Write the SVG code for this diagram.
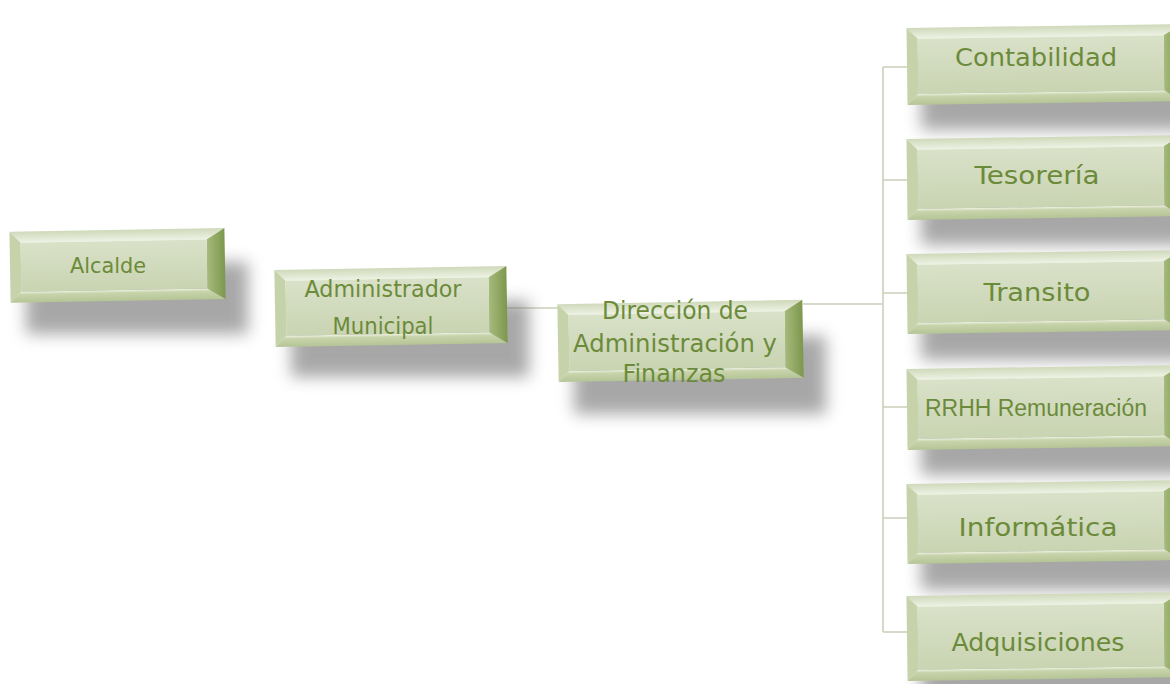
<svg xmlns="http://www.w3.org/2000/svg" width="1170" height="684" viewBox="0 0 1170 684">
<defs>
<linearGradient id="face" x1="0" y1="0" x2="0" y2="1"><stop offset="0" stop-color="#d9e1c8"/><stop offset="1" stop-color="#c9d4b2"/></linearGradient>
<linearGradient id="rb" x1="0" y1="0" x2="1" y2="0"><stop offset="0" stop-color="#a6ba7c"/><stop offset="1" stop-color="#7d974d"/></linearGradient>
<linearGradient id="tb" x1="0" y1="0" x2="0" y2="1"><stop offset="0" stop-color="#cfd9ba"/><stop offset="1" stop-color="#eef2e4"/></linearGradient>
<linearGradient id="bb" x1="0" y1="0" x2="0" y2="1"><stop offset="0" stop-color="#eef2e2"/><stop offset="0.25" stop-color="#c8d4ac"/><stop offset="1" stop-color="#b5c595"/></linearGradient>
<filter id="sh" x="-20%" y="-50%" width="140%" height="200%"><feGaussianBlur stdDeviation="8"/></filter>
</defs>
<style>
.tb{fill:url(#tb)}
.lb{fill:#c6d3aa}
.bb{fill:url(#bb)}
.rb{fill:url(#rb)}
.fc{fill:url(#face)}
.shadow{fill:#6e6e6e;opacity:0.6;filter:url(#sh)}
.t{font-family:"DejaVu Sans","Liberation Sans",sans-serif;fill:#6c8b3a;text-anchor:middle}
.t2{font-family:"Liberation Sans","DejaVu Sans",sans-serif;fill:#6c8b3a;text-anchor:middle}
.c{fill:none;stroke:#c9d0bb;stroke-width:1.6}
</style>
<rect width="1170" height="684" fill="#ffffff"/>

<g id="connectors">
<path class="c" d="M507 308 H558"/>
<path class="c" d="M803 304 H883"/>
<path class="c" d="M883 67 V632"/>
<path class="c" d="M883 67 H907 M883 180 H907 M883 293 H907 M883 407 H907 M883 518 H907 M883 632 H907"/>
</g>

<g id="alcalde">
<rect class="shadow" x="26" y="262" width="222" height="72"/>
<g transform="translate(10,230) rotate(-1 107 35)">
<polygon class="tb" points="0,0 215,0 197,11 11,11"/>
<polygon class="lb" points="0,0 11,11 11,60 0,71"/>
<polygon class="bb" points="0,71 11,60 197,60 215,71"/>
<polygon class="rb" points="215,0 215,71 197,60 197,11"/>
<rect class="fc" x="11" y="11" width="186" height="49"/>
</g>
<text class="t" x="108" y="273" font-size="21" textLength="76" lengthAdjust="spacingAndGlyphs">Alcalde</text>
</g>

<g id="administrador">
<rect class="shadow" x="291" y="301" width="238" height="76"/>
<g transform="translate(275,268) rotate(-1 116 38)">
<polygon class="tb" points="0,0 232,0 214,11 11,11"/>
<polygon class="lb" points="0,0 11,11 11,66 0,77"/>
<polygon class="bb" points="0,77 11,66 214,66 232,77"/>
<polygon class="rb" points="232,0 232,77 214,66 214,11"/>
<rect class="fc" x="11" y="11" width="203" height="55"/>
</g>
<text class="t" x="383" y="297" font-size="23" textLength="157" lengthAdjust="spacingAndGlyphs">Administrador</text>
<text class="t" x="383" y="334" font-size="23" textLength="101" lengthAdjust="spacingAndGlyphs">Municipal</text>
</g>

<g id="direccion">
<rect class="shadow" x="574" y="336" width="252" height="78"/>
<g transform="translate(558,302) rotate(-1 122 39)">
<polygon class="tb" points="0,0 245,0 227,11 11,11"/>
<polygon class="lb" points="0,0 11,11 11,67 0,78"/>
<polygon class="bb" points="0,78 11,67 227,67 245,78"/>
<polygon class="rb" points="245,0 245,78 227,67 227,11"/>
<rect class="fc" x="11" y="11" width="216" height="56"/>
</g>
<text class="t" x="675" y="319" font-size="24" textLength="146" lengthAdjust="spacingAndGlyphs">Dirección de</text>
<text class="t" x="675" y="352" font-size="24" textLength="204" lengthAdjust="spacingAndGlyphs">Administración y</text>
<text class="t" x="674" y="382" font-size="24" textLength="103" lengthAdjust="spacingAndGlyphs">Finanzas</text>
</g>

<g id="contabilidad">
<rect class="shadow" x="921" y="54" width="270" height="76"/>
<g transform="translate(907,26) rotate(-0.8 137 38)">
<polygon class="tb" points="0,0 275,0 257,11 11,11"/>
<polygon class="lb" points="0,0 11,11 11,66 0,77"/>
<polygon class="bb" points="0,77 11,66 257,66 275,77"/>
<polygon class="rb" points="275,0 275,77 257,66 257,11"/>
<rect class="fc" x="11" y="11" width="246" height="55"/>
</g>
<text class="t" x="1036" y="66" font-size="25" textLength="162" lengthAdjust="spacingAndGlyphs">Contabilidad</text>
</g>

<g id="tesoreria">
<rect class="shadow" x="921" y="167" width="270" height="78"/>
<g transform="translate(907,137) rotate(-0.8 137 40)">
<polygon class="tb" points="0,0 275,0 257,11 11,11"/>
<polygon class="lb" points="0,0 11,11 11,70 0,81"/>
<polygon class="bb" points="0,81 11,70 257,70 275,81"/>
<polygon class="rb" points="275,0 275,81 257,70 257,11"/>
<rect class="fc" x="11" y="11" width="246" height="59"/>
</g>
<text class="t" x="1037" y="184" font-size="25" textLength="125" lengthAdjust="spacingAndGlyphs">Tesorería</text>
</g>

<g id="transito">
<rect class="shadow" x="921" y="282" width="270" height="78"/>
<g transform="translate(907,252) rotate(-0.8 137 40)">
<polygon class="tb" points="0,0 275,0 257,11 11,11"/>
<polygon class="lb" points="0,0 11,11 11,69 0,80"/>
<polygon class="bb" points="0,80 11,69 257,69 275,80"/>
<polygon class="rb" points="275,0 275,80 257,69 257,11"/>
<rect class="fc" x="11" y="11" width="246" height="58"/>
</g>
<text class="t" x="1037" y="301" font-size="25" textLength="107" lengthAdjust="spacingAndGlyphs">Transito</text>
</g>

<g id="rrhh">
<rect class="shadow" x="921" y="397" width="270" height="78"/>
<g transform="translate(907,367) rotate(-0.8 137 40)">
<polygon class="tb" points="0,0 275,0 257,11 11,11"/>
<polygon class="lb" points="0,0 11,11 11,70 0,81"/>
<polygon class="bb" points="0,81 11,70 257,70 275,81"/>
<polygon class="rb" points="275,0 275,81 257,70 257,11"/>
<rect class="fc" x="11" y="11" width="246" height="59"/>
</g>
<text class="t2" x="1036" y="416" font-size="23" textLength="222" lengthAdjust="spacingAndGlyphs">RRHH Remuneración</text>
</g>

<g id="informatica">
<rect class="shadow" x="921" y="512" width="270" height="78"/>
<g transform="translate(907,482) rotate(-0.8 137 40)">
<polygon class="tb" points="0,0 275,0 257,11 11,11"/>
<polygon class="lb" points="0,0 11,11 11,69 0,80"/>
<polygon class="bb" points="0,80 11,69 257,69 275,80"/>
<polygon class="rb" points="275,0 275,80 257,69 257,11"/>
<rect class="fc" x="11" y="11" width="246" height="58"/>
</g>
<text class="t" x="1038" y="536" font-size="25" textLength="159" lengthAdjust="spacingAndGlyphs">Informática</text>
</g>

<g id="adquisiciones">
<rect class="shadow" x="921" y="626" width="270" height="82"/>
<g transform="translate(907,594) rotate(-0.8 137 42)">
<polygon class="tb" points="0,0 275,0 257,11 11,11"/>
<polygon class="lb" points="0,0 11,11 11,74 0,85"/>
<polygon class="bb" points="0,85 11,74 257,74 275,85"/>
<polygon class="rb" points="275,0 275,85 257,74 257,11"/>
<rect class="fc" x="11" y="11" width="246" height="63"/>
</g>
<text class="t" x="1038" y="651" font-size="25" textLength="173" lengthAdjust="spacingAndGlyphs">Adquisiciones</text>
</g>
</svg>
